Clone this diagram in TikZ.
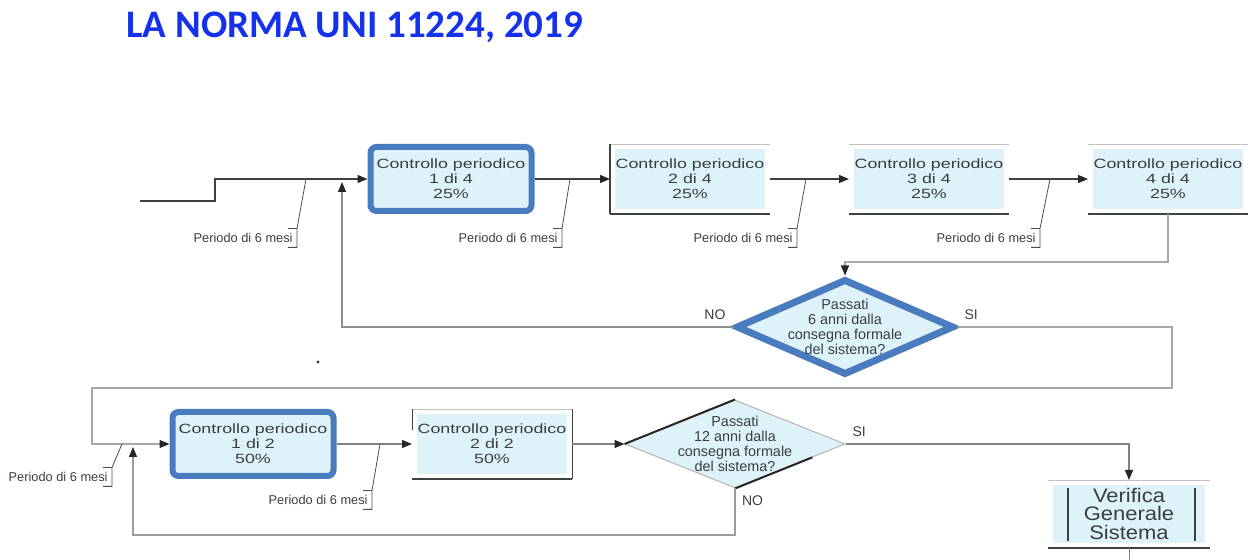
\documentclass[tikz,border=0pt]{standalone}
\usepackage{fontspec}
\setmainfont{Liberation Sans}
\newfontfamily\titlefont{Carlito}
\newfontfamily\widefont[FakeStretch=1.33]{Liberation Sans}
\newfontfamily\procfont[FakeStretch=1.12]{Liberation Sans}
\usetikzlibrary{shapes.geometric, arrows.meta, positioning, calc}

\definecolor{boxfill}{RGB}{222,242,250}
\definecolor{hlblue}{RGB}{72,124,190}
\definecolor{titleblue}{RGB}{20,50,235}
\definecolor{linegray}{RGB}{130,130,130}
\definecolor{textgray}{RGB}{55,62,70}

\begin{document}
\begin{tikzpicture}[
    x=0.5pt, y=-0.5pt,
    font=\widefont\fontsize{6.7}{7.5}\selectfont,
    every node/.style={text=textgray},
    hlbox/.style={rectangle, rounded corners=3pt, draw=hlblue, line width=3pt, fill=boxfill, minimum width=80.5pt, minimum height=32pt, align=center, inner sep=1pt},
    plainbox/.style={rectangle, draw=white, line width=2.5pt, fill=boxfill, minimum width=77.5pt, minimum height=32.5pt, align=center, inner sep=1pt},
    procbox/.style={rectangle, draw=white, line width=2.5pt, fill=boxfill, minimum width=78.5pt, minimum height=31.5pt, align=center, inner sep=1pt, font=\procfont\fontsize{9.8}{9.3}\selectfont},
    hldecision/.style={diamond, shape aspect=2.2, draw=hlblue, line width=3.5pt, fill=boxfill, minimum width=109pt, minimum height=48pt, inner sep=-4pt, align=center, font=\rmfamily\fontsize{7.2}{7.5}\selectfont},
    plaindecision/.style={diamond, shape aspect=2.2, draw=linegray!60, line width=0.5pt, fill=boxfill, minimum width=110pt, minimum height=44pt, inner sep=-4pt, align=center, font=\rmfamily\fontsize{7.2}{7.5}\selectfont},
    flow/.style={draw=linegray, line width=0.6pt, -{Triangle[length=5pt, width=4pt, color=black!85]}},
    mainflow/.style={flow, draw=black!75},
    callout/.style={draw=black!70, line width=0.4pt},
    period/.style={anchor=east, font=\rmfamily\fontsize{6.4}{7}\selectfont, inner xsep=2pt, inner ysep=0pt, minimum height=9pt},
    ynlabel/.style={font=\rmfamily\fontsize{7}{8}\selectfont},
    topedge/.style={draw=linegray!50, line width=0.4pt},
    botedge/.style={draw=black!75, line width=0.8pt},
    procline/.style={draw=black!75, line width=1.1pt}
]
\useasboundingbox (0,0) rectangle (1260,560);

% Title
\node[anchor=west, inner sep=0pt, text=titleblue, font=\titlefont\bfseries\fontsize{19.5}{22}\selectfont] (title) at (126,27) {LA NORMA UNI 11224, 2019};

% Top row: four periodic checks
\node[hlbox] (c1) at (451,179) {Controllo periodico\\1 di 4\\25\%};
\node[plainbox] (c2) at (690,179) {Controllo periodico\\2 di 4\\25\%};
\node[plainbox] (c3) at (929,179) {Controllo periodico\\3 di 4\\25\%};
\node[plainbox] (c4) at (1168,179) {Controllo periodico\\4 di 4\\25\%};

\node[hldecision] (d1) at (845,327) {Passati\\6 anni dalla\\consegna formale\\del sistema?};

% Bottom row
\node[hlbox] (b1) at (253,444) {Controllo periodico\\1 di 2\\50\%};
\node[plainbox] (b2) at (492,444) {Controllo periodico\\2 di 2\\50\%};
\node[plaindecision] (d2) at (735,444) {Passati\\12 anni dalla\\consegna formale\\del sistema?};
\node[procbox] (vgs) at (1129,514) {Verifica\\Generale\\Sistema};

% box edges
\foreach \n in {c2,c3,c4,b2,vgs} {
    \draw[topedge] (\n.north west) -- (\n.north east);
    \draw[botedge] (\n.south west) -- (\n.south east);
}
\draw[botedge, line width=0.6pt] (c2.north west) -- (c2.south west);
\draw[botedge, line width=0.5pt] (b2.north west) -- ($(b2.north west)!0.3!(b2.south west)$);
\draw[botedge, line width=0.5pt] (b2.north east) -- (b2.south east);
\draw[procline] ($(vgs.north west)+(20,8)$) -- ($(vgs.south west)+(20,-7)$);
\draw[procline] ($(vgs.north east)+(-15,8)$) -- ($(vgs.south east)+(-15,-7)$);
\draw[black!85, line width=1pt] (d2.west) -- (d2.north);
\draw[black!85, line width=1pt] (d2.south) -- ($(d2.south)!0.7!(d2.east)$);

% Coordinates for the connectors
\coordinate (in1) at (140,201);
\coordinate (step1) at (215,179);
\coordinate (j1) at (845,262);
\coordinate (j2) at (342,182);
\coordinate (j3) at (1172,388);
\coordinate (j4) at (92,388);
\coordinate (j5) at (133,447);
\coordinate (j6) at (133,535);
\coordinate (out1) at (1129,562);

% Top row connectors
\draw[mainflow] (in1) -| (step1) -- (c1);
\draw[mainflow] (c1) -- (c2);
\draw[mainflow] (c2) -- (c3);
\draw[mainflow] (c3) -- (c4);
\draw[flow, draw=linegray!70] (c4.south) |- (j1) -- (d1.north);
\draw[flow, draw=linegray!90] (d1.west) -| (j2);
\draw[flow, draw=linegray!70] (d1.east) -| (j3) -- (j4) |- (b1.west);
\node[ynlabel, anchor=south east] (no1) at (d1.west) {NO};
\node[ynlabel, anchor=south west] (si1) at (d1.east) {SI};

% Bottom row connectors
\draw[flow] (b1) -- (b2);
\draw[flow] (b2) -- (d2.west);
\draw[flow] (d2.east) -| (vgs.north);
\draw[flow, draw=linegray!80] (d2.south) |- (j6) -- (j5);
\draw[draw=linegray] (vgs.south) -- (out1);
\node[ynlabel, anchor=south west] (si2) at (d2.east) {SI};
\node[ynlabel, anchor=north west] (no2) at (d2.south) {NO};

% Period annotations
\node[period] (p1) at (297,238) {Periodo di 6 mesi};
\node[period] (p2) at (562,238) {Periodo di 6 mesi};
\node[period] (p3) at (797,238) {Periodo di 6 mesi};
\node[period] (p4) at (1040,238) {Periodo di 6 mesi};
\node[period] (p5) at (112,477) {Periodo di 6 mesi};
\node[period] (p6) at (372,500) {Periodo di 6 mesi};
\coordinate (a1) at (306,179);
\coordinate (a2) at (570,179);
\coordinate (a3) at (806,179);
\coordinate (a4) at (1050,179);
\coordinate (a5) at (122,444);
\coordinate (a6) at (380,444);
\foreach \p/\a in {p1/a1, p2/a2, p3/a3, p4/a4, p5/a5, p6/a6} {
    \draw[callout] (\a) -- (\p.north east) -- (\p.south east) -- ++(-9,0)
        (\p.north east) -- ++(-9,0);
}

\fill[black!80] (318,362) circle (0.8pt);

\end{tikzpicture}
\end{document}
